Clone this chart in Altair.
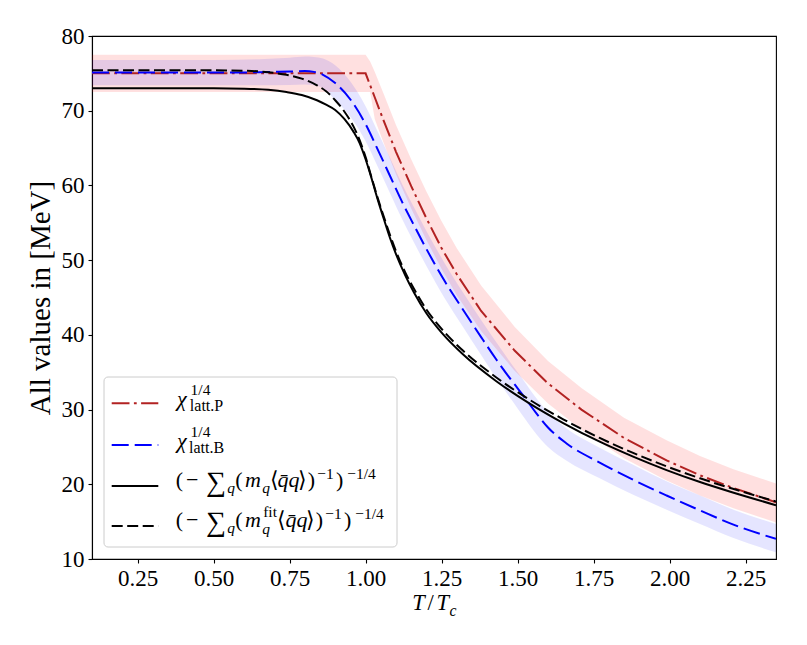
import altair as alt
import pandas as pd

# ---------------- data ----------------
T_S = [0.10, 0.30, 0.50, 0.60, 0.68, 0.74, 0.79, 0.84, 0.87, 0.90, 0.93, 0.96, 0.98, 1.00, 1.02,
       1.04, 1.06, 1.08, 1.10, 1.13, 1.16, 1.20, 1.25, 1.32, 1.43, 1.54, 1.65, 1.77, 1.88, 1.99,
       2.10, 2.20, 2.35]
S_VAL = [73.0, 73.0, 73.0, 72.95, 72.8, 72.5, 72.1, 71.4, 70.8, 70.1, 68.9, 67.2, 65.7, 63.5, 60.9,
         58.1, 55.5, 53.0, 50.8, 48.0, 45.6, 42.9, 40.3, 37.4, 33.8, 30.8, 28.2, 25.7, 23.7, 21.9,
         20.3, 19.0, 17.2]
D_VAL = [75.4, 75.4, 75.4, 75.35, 75.15, 74.8, 74.3, 73.4, 72.6, 71.4, 69.9, 67.9, 66.1, 63.8, 61.0,
         58.3, 55.8, 53.4, 51.2, 48.4, 46.1, 43.4, 40.8, 37.9, 34.3, 31.3, 28.7, 26.2, 24.2, 22.4,
         20.8, 19.5, 17.7]

T_R = [0.10, 0.50, 1.00, 1.03, 1.06, 1.10, 1.15, 1.20, 1.25, 1.30, 1.38, 1.49, 1.60, 1.71, 1.85,
       1.99, 2.10, 2.21, 2.35]
R_VAL = [75.0, 75.0, 75.0, 71.8, 68.6, 64.5, 59.9, 55.6, 51.6, 48.1, 43.2, 37.9, 33.5, 30.0, 26.2,
         23.2, 21.2, 19.5, 17.6]

T_RB = [0.10, 1.00, 1.015, 1.03, 1.06, 1.10, 1.15, 1.20, 1.25, 1.30, 1.38, 1.49, 1.60, 1.71, 1.85,
        1.99, 2.10, 2.21, 2.35]
RB_HI = [77.5, 77.5, 76.6, 75.2, 72.2, 68.1, 63.5, 59.2, 55.2, 51.6, 46.6, 41.1, 36.5, 32.9, 28.9,
         25.9, 23.8, 22.0, 20.1]
RB_LO = [72.5, 72.5, 72.5, 68.9, 65.6, 61.5, 56.9, 52.7, 48.8, 45.3, 40.5, 35.2, 30.8, 27.3, 23.5,
         20.5, 18.5, 16.8, 14.9]

T_B = [0.10, 0.30, 0.50, 0.65, 0.75, 0.80, 0.83, 0.86, 0.90, 0.95, 1.00, 1.04, 1.08, 1.12, 1.16,
       1.20, 1.26, 1.32, 1.38, 1.43, 1.48, 1.52, 1.56, 1.60, 1.66, 1.77, 1.88, 1.99, 2.10, 2.21, 2.35]
B_VAL = [75.1, 75.1, 75.1, 75.15, 75.25, 75.3, 75.2, 74.8, 73.7, 71.5, 68.2, 64.8, 61.3, 57.8, 54.6,
         51.5, 47.2, 43.4, 39.7, 36.7, 33.9, 31.8, 29.6, 27.6, 25.5, 22.9, 20.6, 18.5, 16.5, 14.6, 12.7]
B_HI = [76.8, 76.8, 76.8, 76.9, 77.1, 77.25, 77.2, 77.0, 76.1, 73.9, 70.6, 67.2, 63.7, 60.2, 57.0,
        53.9, 49.6, 45.7, 42.0, 39.0, 36.1, 33.9, 31.6, 29.6, 27.5, 24.9, 22.6, 20.4, 18.5, 16.6, 14.7]
B_LO = [73.4, 73.4, 73.4, 73.4, 73.45, 73.5, 73.4, 73.0, 71.4, 69.2, 65.9, 62.5, 59.0, 55.5, 52.3,
        49.2, 44.9, 41.1, 37.3, 34.2, 31.3, 29.0, 26.8, 25.0, 23.2, 20.8, 18.6, 16.6, 14.7, 12.8, 10.9]

X_TICKS = [0.25, 0.50, 0.75, 1.00, 1.25, 1.50, 1.75, 2.00, 2.25]
Y_TICKS = [10, 20, 30, 40, 50, 60, 70, 80]
Y_TITLE = "All values in [MeV]"

# ---------------- layout ----------------
W, H = 684, 523
PAD_L, PAD_T = 84, 28
OX, OY = 8 + PAD_L, 8 + PAD_T   # page position of plot origin
FONT = "Liberation Serif"

xs = alt.Scale(domain=[0.1, 2.35], nice=False, zero=False)
ys = alt.Scale(domain=[10, 80], nice=False, zero=False)
xax = alt.Axis(values=X_TICKS, format=".2f", title="", grid=False)
yax = alt.Axis(values=Y_TICKS, format="d", title=Y_TITLE, grid=False)


def X(f="T"):
    return alt.X(f + ":Q", scale=xs, axis=xax)


def Y(f="v"):
    return alt.Y(f + ":Q", scale=ys, axis=yax)


df_s = pd.DataFrame({"T": T_S, "v": S_VAL})
df_d = pd.DataFrame({"T": T_S, "v": D_VAL})
df_r = pd.DataFrame({"T": T_R, "v": R_VAL})
df_rb = pd.DataFrame({"T": T_RB, "lo": RB_LO, "hi": RB_HI})
df_b = pd.DataFrame({"T": T_B, "v": B_VAL})
df_bb = pd.DataFrame({"T": T_B, "lo": B_LO, "hi": B_HI})

RED = "#b22222"
BLUE = "#0000ff"
LW = 2.0
DASHDOT = [17.8, 4.4, 2.8, 4.4]
BDASH = [17, 6]
KDASH = [11, 4.5]

band_r = alt.Chart(df_rb).mark_area(color="#ff0000", opacity=0.12, clip=True).encode(
    x=X(), y=alt.Y("lo:Q", scale=ys, axis=yax), y2="hi:Q")
band_b = alt.Chart(df_bb).mark_area(color=BLUE, opacity=0.10, clip=True, interpolate="monotone").encode(
    x=X(), y=alt.Y("lo:Q", scale=ys, axis=yax), y2="hi:Q")
line_r = alt.Chart(df_r).mark_line(color=RED, strokeWidth=LW, strokeDash=DASHDOT, clip=True).encode(
    x=X(), y=Y())
line_b = alt.Chart(df_b).mark_line(color=BLUE, strokeWidth=LW, strokeDash=BDASH, clip=True,
                                   interpolate="monotone").encode(x=X(), y=Y())
line_s = alt.Chart(df_s).mark_line(color="black", strokeWidth=LW, clip=True,
                                   interpolate="monotone").encode(x=X(), y=Y())
line_d = alt.Chart(df_d).mark_line(color="black", strokeWidth=LW, strokeDash=KDASH, clip=True,
                                   interpolate="monotone").encode(x=X(), y=Y())

# ---------------- legend (drawn by hand) ----------------
one = pd.DataFrame({"a": [0]})
box = alt.Chart(one).mark_rect(fill="white", fillOpacity=0.8, stroke="#cccccc", strokeWidth=1,
                               cornerRadius=4).encode(
    x=alt.value(104 - OX), x2=alt.value(397 - OX), y=alt.value(377 - OY), y2=alt.value(547 - OY))

ROWS = [403.3, 445.0, 486.0, 526.0]


def sample(yp, color, dash=None):
    kw = dict(color=color, strokeWidth=LW)
    if dash:
        kw["strokeDash"] = dash
    return alt.Chart(one).mark_rule(**kw).encode(
        x=alt.value(111.7 - OX), x2=alt.value(158.3 - OX), y=alt.value(yp - OY))


samples = [sample(ROWS[0], RED, DASHDOT), sample(ROWS[1], BLUE, BDASH),
           sample(ROWS[2], "black"), sample(ROWS[3], "black", KDASH)]

pieces = []  # text, page centre x, page baseline y, size, italic


def P(t, cx, by, size, it=False):
    pieces.append({"t": t, "x": cx - OX, "y": by - OY, "s": size, "it": it})


M, SC = 22, 15.5
for k, sub in enumerate(["latt.P", "latt.B"]):
    b = 406 + 41.7 * k
    P("χ", 181.9, b, M, True)
    P("1/4", 190 + 10.5, b - 11, SC)
    P(sub, 189 + 17.5, b + 5, 16)

for k in range(2):
    b = 487 + 40 * k
    P("(", 179.3, b, M)
    P("−", 192.2, b, M)
    P("∑", 216.0, b + 4, 28)
    P("q", 231.2, b + 5.5, SC, True)
    P("(", 239.0, b, M)
    P("m", 253.0, b, M, True)
    if k == 0:
        P("q", 266.2, b + 5.5, SC, True)
        sh = 0.0
    else:
        P("fit", 270.1, b - 10.5, SC)
        P("q", 266.2, b + 6.5, SC, True)
        sh = 7.9
    P("⟨", 274.0 + sh, b, M)
    P("q\u0304q", 288.5 + sh, b, M, True)
    P("⟩", 302.8 + sh, b, M)
    P(")", 311.4 + sh, b, M)
    P("−1", 325.5 + sh, b - 8.5, SC)
    P(")", 339.7 + sh, b, M)
    P("−1/4", 361.6 + sh, b - 8.5, SC)

# x-axis title  T/T_c
P("T", 418.5, 610, 22.5, True)
P("/", 430.6, 610, 22.5)
P("T", 442.8, 610, 22.5, True)
P("c", 452.9, 616, 15.75, True)

df_txt = pd.DataFrame(pieces)


def txt_layer(italic):
    d = df_txt[df_txt["it"] == italic]
    kw = dict(align="center", baseline="alphabetic", font=FONT, color="black")
    if italic:
        kw["fontStyle"] = "italic"
    return alt.Chart(d).mark_text(**kw).encode(
        x=alt.X("x:Q", scale=None), y=alt.Y("y:Q", scale=None),
        text="t:N", size=alt.Size("s:Q", scale=None))


chart = alt.layer(
    band_r, band_b, line_r, line_b, line_s, line_d, box, *samples, txt_layer(False), txt_layer(True)
).properties(
    width=W, height=H,
    background="white",
    autosize=alt.AutoSizeParams(type="none"),
    padding={"left": PAD_L, "top": PAD_T, "right": 10, "bottom": 70},
).configure_view(
    stroke="black", strokeWidth=1.1
).configure_axis(
    labelFont=FONT, labelFontSize=23, labelColor="black", labelPadding=4,
    tickColor="black", tickSize=4, tickWidth=1.1,
    domainColor="black", domainWidth=1.1,
    titleFont=FONT, titleFontSize=29, titleFontWeight="normal", titleColor="black", titlePadding=6,
)

chart.save("out.html", embed_options={"renderer": "svg", "actions": False})
